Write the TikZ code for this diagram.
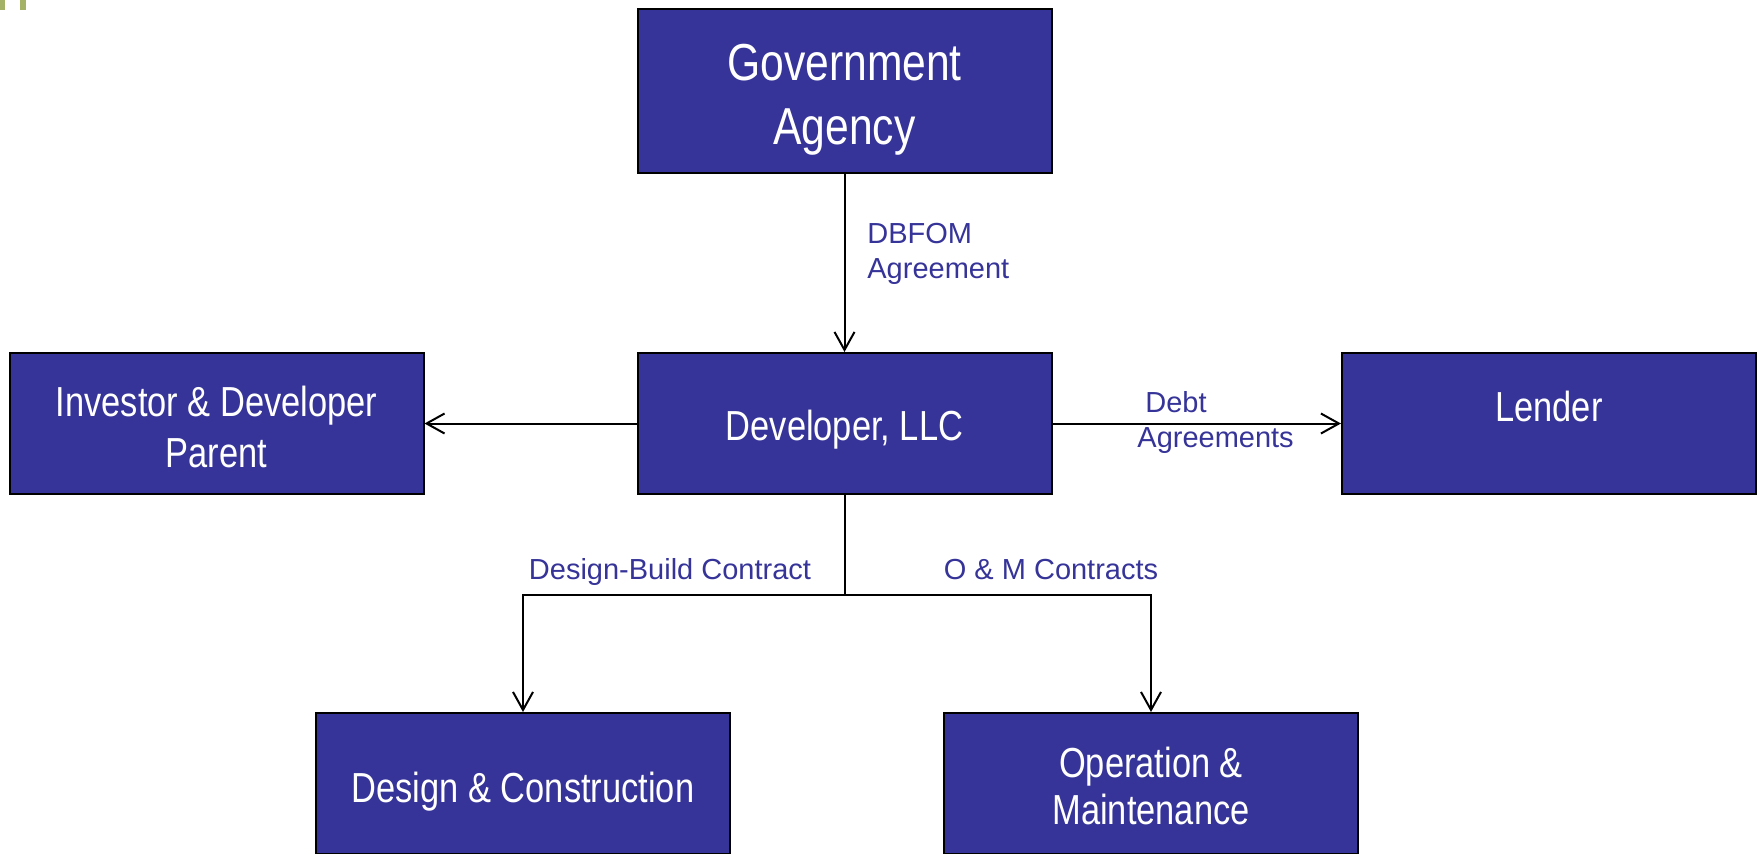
\documentclass[tikz,border=0pt]{standalone}
\usepackage{fontspec}
\setmainfont{Liberation Sans}
\newfontfamily\narrowfont[FakeStretch=0.82]{Liberation Sans}
\usetikzlibrary{arrows.meta}
\definecolor{boxblue}{RGB}{54,52,152}
\definecolor{slidegreen}{RGB}{164,178,104}
\tikzset{
  box/.style={draw=black, line width=1pt, fill=boxblue, text=white,
    minimum width=207pt, minimum height=70.5pt, align=center,
    font=\narrowfont\fontsize{21}{25.5}\selectfont},
  link/.style={line width=1pt, -{Straight Barb[length=9pt,width=10pt]}},
  tag/.style={text=boxblue, align=left, inner sep=0pt,
    font=\fontsize{14.5}{17.5}\selectfont}
}
\begin{document}
\begin{tikzpicture}[x=0.5pt,y=-0.5pt]
\useasboundingbox (0,0) rectangle (1758,853);
% corner of the slide frame
\fill[slidegreen] (0,0) rectangle (5,10);
\fill[slidegreen] (20,0) rectangle (26,10);
% boxes
\node[box, minimum height=82pt, font=\narrowfont\fontsize{26}{32}\selectfont] (gov) at (844.5,90.5) {\rule{0pt}{27pt}Government\\Agency};
\node[box, text height=21pt] (dev) at (844.5,423.5) {Developer, LLC};
\node[box] (inv) at (216.5,423.5) {\rule{0pt}{18.7pt}Investor \& Developer\\Parent};
\node[box, text depth=17.5pt] (lend) at (1549,423.5) {Lender};
\node[box, text height=23pt] (dc) at (523,783.5) {Design \& Construction};
\node[box, font=\narrowfont\fontsize{21}{23.5}\selectfont] (om) at (1151,783.5) {\rule{0pt}{18pt}Operation \&\\Maintenance};
% connectors
\draw[link] (gov) -- (dev);
\draw[link] (dev) -- (inv);
\draw[link] (dev) -- (lend);
\coordinate (fork) at (844.5,595);
\draw[line width=1pt] (dev) -- (fork);
\draw[link] (fork) -| (dc);
\draw[link] (fork) -| (om);
% labels
\node[tag, anchor=west] (dbfom) at (867,253.5) {DBFOM\\Agreement};
\node[tag, anchor=west] (debt) at (1137,422.5) {\hspace{4pt}Debt\\Agreements};
\node[tag] (dbc) at (670,572) {Design-Build Contract};
\node[tag] (omc) at (1051,570) {O \& M Contracts};
\end{tikzpicture}
\end{document}
